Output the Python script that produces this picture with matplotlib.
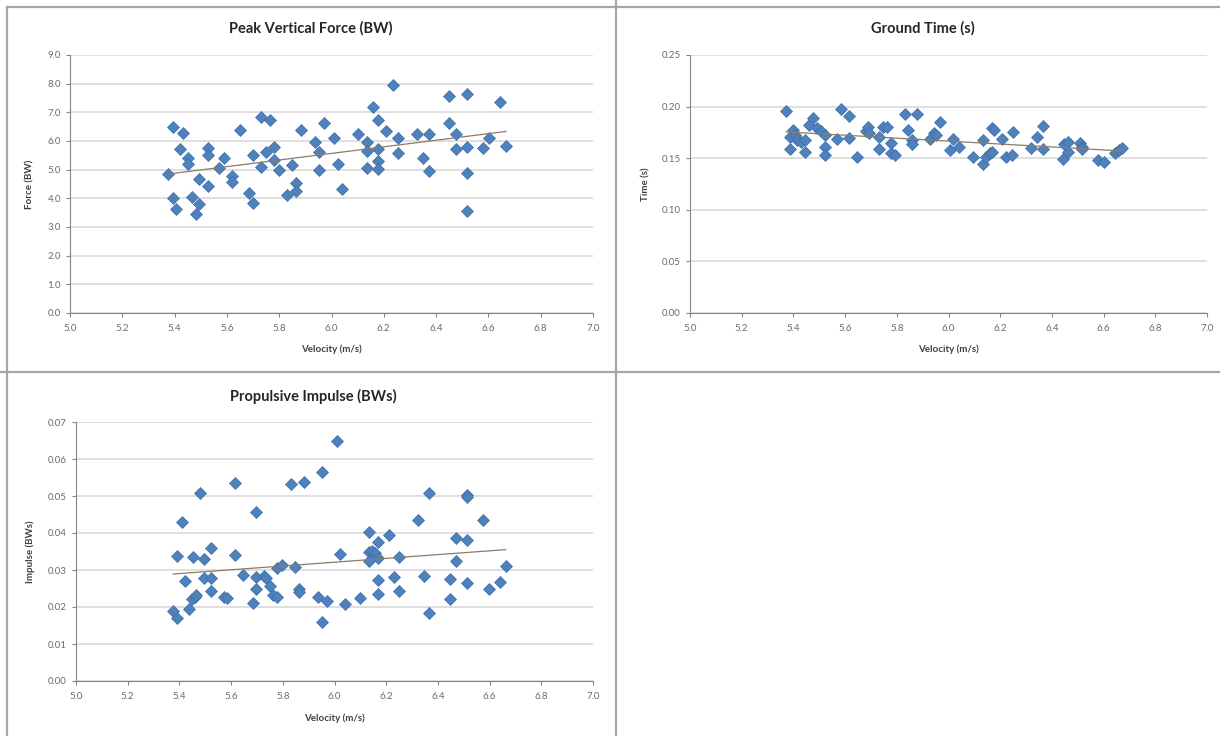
import numpy as np
import matplotlib
matplotlib.use("Agg")
import matplotlib.pyplot as plt
from matplotlib.lines import Line2D

# --- data ------------------------------------------------------------------
force_v = [5.376, 5.393, 5.393, 5.407, 5.421, 5.434, 5.452, 5.452, 5.465, 5.48,
           5.494, 5.494, 5.528, 5.528, 5.528, 5.571, 5.589, 5.619, 5.619, 5.65,
           5.684, 5.70, 5.70, 5.732, 5.732, 5.748, 5.764, 5.782, 5.782, 5.80,
           5.85, 5.865, 5.865, 5.83, 5.885, 5.935, 5.953, 5.953, 5.971, 6.01,
           6.025, 6.042, 6.10, 6.137, 6.137, 6.137, 6.157, 6.176, 6.176, 6.176,
           6.176, 6.21, 6.234, 6.253, 6.253, 6.328, 6.35, 6.371, 6.371, 6.45,
           6.45, 6.477, 6.477, 6.518, 6.518, 6.518, 6.518, 6.58, 6.603, 6.646,
           6.667]
force = [4.84, 6.50, 4.02, 3.62, 5.72, 6.28, 5.41, 5.19, 4.05, 3.44,
         4.69, 3.80, 5.74, 5.50, 4.43, 5.05, 5.39, 4.77, 4.58, 6.38,
         4.17, 5.50, 3.84, 6.82, 5.08, 5.60, 6.73, 5.80, 5.33, 5.00,
         5.18, 4.52, 4.26, 4.11, 6.38, 5.97, 5.62, 4.98, 6.64, 6.10,
         5.19, 4.34, 6.23, 5.97, 5.66, 5.07, 7.20, 6.73, 5.73, 5.30,
         5.04, 6.36, 7.94, 6.11, 5.59, 6.26, 5.39, 6.24, 4.95, 7.57,
         6.64, 6.23, 5.71, 7.63, 5.80, 4.90, 3.56, 5.74, 6.10, 7.35,
         5.83]

time_v = [5.371, 5.385, 5.385, 5.40, 5.408, 5.415, 5.43, 5.445, 5.445, 5.46,
          5.475, 5.49, 5.506, 5.521, 5.521, 5.521, 5.569, 5.584, 5.614, 5.614,
          5.645, 5.679, 5.687, 5.694, 5.732, 5.732, 5.747, 5.762, 5.777, 5.777,
          5.792, 5.83, 5.845, 5.86, 5.86, 5.878, 5.928, 5.943, 5.951, 5.969,
          6.004, 6.019, 6.042, 6.094, 6.132, 6.132, 6.147, 6.162, 6.17, 6.17,
          6.177, 6.208, 6.223, 6.245, 6.25, 6.321, 6.343, 6.366, 6.366, 6.442,
          6.446, 6.464, 6.464, 6.509, 6.517, 6.517, 6.577, 6.60, 6.645, 6.66,
          6.671]
ground_time = [0.196, 0.159, 0.171, 0.177, 0.172, 0.168, 0.166, 0.156, 0.168, 0.182,
               0.189, 0.179, 0.176, 0.172, 0.161, 0.153, 0.169, 0.198, 0.191, 0.170,
               0.151, 0.176, 0.180, 0.174, 0.171, 0.159, 0.180, 0.180, 0.165, 0.155,
               0.153, 0.193, 0.177, 0.168, 0.164, 0.193, 0.169, 0.174, 0.172, 0.185,
               0.158, 0.169, 0.161, 0.151, 0.168, 0.144, 0.151, 0.155, 0.179, 0.156,
               0.177, 0.169, 0.151, 0.153, 0.175, 0.160, 0.171, 0.181, 0.159, 0.149,
               0.164, 0.166, 0.156, 0.165, 0.161, 0.159, 0.148, 0.146, 0.155, 0.158,
               0.160]

imp_v = [5.376, 5.391, 5.391, 5.409, 5.423, 5.436, 5.448, 5.451, 5.459, 5.466,
         5.478, 5.496, 5.496, 5.523, 5.523, 5.523, 5.571, 5.586, 5.617, 5.617,
         5.647, 5.684, 5.696, 5.696, 5.696, 5.729, 5.734, 5.749, 5.764, 5.779,
         5.779, 5.797, 5.83, 5.848, 5.863, 5.863, 5.883, 5.935, 5.95, 5.95,
         5.97, 6.008, 6.023, 6.041, 6.098, 6.132, 6.132, 6.132, 6.147, 6.155,
         6.17, 6.17, 6.17, 6.17, 6.211, 6.23, 6.248, 6.248, 6.323, 6.346,
         6.365, 6.365, 6.447, 6.447, 6.469, 6.469, 6.511, 6.511, 6.511, 6.511,
         6.574, 6.597, 6.639, 6.662]
impulse = [0.0190, 0.0171, 0.0339, 0.0429, 0.0269, 0.0195, 0.0221, 0.0335, 0.0228, 0.0233,
           0.0507, 0.0330, 0.0278, 0.0359, 0.0278, 0.0242, 0.0228, 0.0224, 0.0534, 0.0341,
           0.0287, 0.0212, 0.0456, 0.0280, 0.0249, 0.0285, 0.0278, 0.0258, 0.0233, 0.0228,
           0.0305, 0.0314, 0.0532, 0.0309, 0.0249, 0.0240, 0.0538, 0.0228, 0.0564, 0.0159,
           0.0216, 0.0649, 0.0343, 0.0208, 0.0224, 0.0402, 0.0350, 0.0323, 0.0352, 0.0345,
           0.0375, 0.0332, 0.0272, 0.0236, 0.0395, 0.0281, 0.0336, 0.0242, 0.0436, 0.0284,
           0.0507, 0.0183, 0.0276, 0.0222, 0.0386, 0.0323, 0.0503, 0.0497, 0.0382, 0.0266,
           0.0435, 0.0249, 0.0267, 0.0312]

x_ticks = [5.0, 5.2, 5.4, 5.6, 5.8, 6.0, 6.2, 6.4, 6.6, 6.8, 7.0]

W, H = 1220, 736
plt.rcParams['font.family'] = ['Lato', 'DejaVu Sans']

fig = plt.figure(figsize=(W / 100, H / 100), dpi=100)
fig.patch.set_facecolor('white')

BLUE = '#4f81bd'
TEXT = '#6b6b6b'
GRID = '#d9d9d9'
AXIS = '#868686'


def rect(l, t, r, b):
    return [l / W, 1 - b / H, (r - l) / W, (b - t) / H]


def scatter_panel(box, xs, ys, yticks, yfmt, title, ylabel, title_xy, xlabel_y, ylabel_x):
    ax = fig.add_axes(rect(*box))
    ax.plot(xs, ys, linestyle='none', marker='D', markersize=5.8,
            color=BLUE, markeredgecolor='#3d6ea8', markeredgewidth=0.5, zorder=3)
    # linear trendline, like the Excel one
    k, c = np.polyfit(xs, ys, 1)
    tx = np.array([min(xs), max(xs)])
    ax.plot(tx, k * tx + c, color='#8c7b68', linewidth=0.9, zorder=4)

    ax.set_xlim(5.0, 7.0)
    ax.set_ylim(yticks[0], yticks[-1])
    ax.set_xticks(x_ticks)
    ax.set_xticklabels(['%.1f' % v for v in x_ticks])
    ax.set_yticks(yticks)
    ax.set_yticklabels([yfmt % v for v in yticks])
    ax.yaxis.grid(True, color=GRID, linewidth=1.2)
    ax.set_axisbelow(True)
    for s in ('top', 'right'):
        ax.spines[s].set_visible(False)
    for s in ('left', 'bottom'):
        ax.spines[s].set_color(AXIS)
        ax.spines[s].set_linewidth(0.8)
    ax.tick_params(axis='both', colors=AXIS, labelcolor=TEXT, labelsize=7,
                   length=3, width=0.8, direction='out')
    ax.tick_params(axis='x', pad=5)

    fig.text(title_xy[0] / W, 1 - title_xy[1] / H, title, ha='center', va='center',
             fontsize=10.5, fontweight='bold', color='#262626')
    fig.text((box[0] + box[2]) / 2 / W, 1 - xlabel_y / H, 'Velocity (m/s)',
             ha='center', va='center', fontsize=7, fontweight='bold', color='#404040')
    fig.text(ylabel_x / W, 1 - (box[1] + box[3]) / 2 / H, ylabel, rotation=90,
             ha='center', va='center', fontsize=7, fontweight='bold', color='#404040')
    return ax


scatter_panel((70, 55, 593, 313), force_v, force, np.arange(0, 9.01, 1.0), '%.1f',
              'Peak Vertical Force (BW)', 'Force (BW)', (311, 28), 349, 30)
scatter_panel((690, 55, 1207, 313), time_v, ground_time, np.arange(0, 0.2501, 0.05), '%.2f',
              'Ground Time (s)', 'Time (s)', (923, 28), 349, 646)
scatter_panel((76, 422, 593, 681), imp_v, impulse, np.arange(0, 0.0701, 0.01), '%.2f',
              'Propulsive Impulse (BWs)', 'Impulse (BWs)', (313, 396), 718, 30)

# panel borders
BORDER = '#a6a6a6'
for (x0, y0, x1, y1) in [(7, 7, 1220, 7), (7, 7, 7, 736), (616, 0, 616, 736), (0, 372, 1220, 372)]:
    fig.add_artist(Line2D([x0 / W, x1 / W], [1 - y0 / H, 1 - y1 / H],
                          color=BORDER, linewidth=1.6))

fig.savefig('out.png', dpi=100, facecolor='white')
